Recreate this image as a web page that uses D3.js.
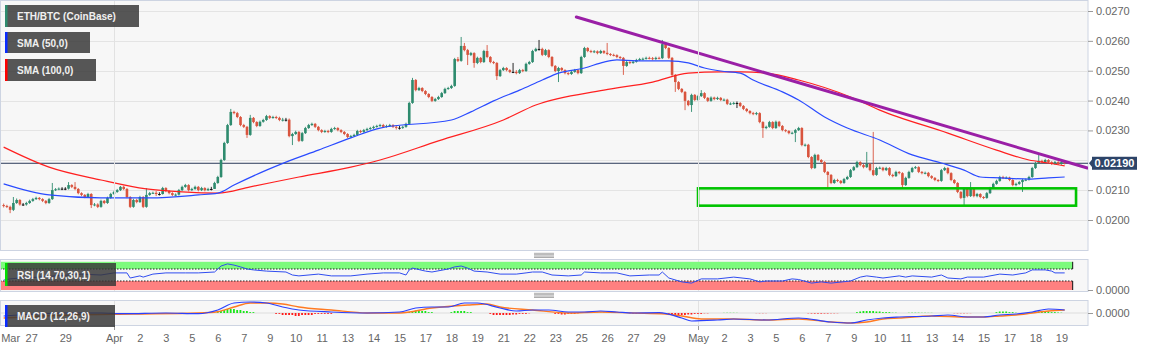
<!DOCTYPE html>
<html>
<head>
<script src="https://d3js.org/d3.v7.min.js"></script>
<style>
  html, body { margin: 0; padding: 0; background: #fff; }
  svg { display: block; font-family: Arial, "Liberation Sans", Helvetica, sans-serif; }
  .axis text { font-size: 11px; fill: #666; }
  .axis line { stroke: #999; }
  .axis path { display: none; }
  .legend text { font-size: 10px; font-weight: bold; fill: #f0f0f0; }
</style>
</head>
<body>
<div id="chart"></div>
<script>
// ---- DATA (4h candles, prices x 100000) ----
const candleStart = "2020-03-26T08:00:00Z";
const candleHours = 4;
const firstOpen = 2050;

const closes = [
  2047,2044,2034,2057,2067,2052,2052,2057,2064,2070, 2074,2070,2064,2057,2070,2100,2103,2105,2105,2105,
  2117,2111,2104,2090,2084,2077,2087,2050,2052,2044, 2064,2057,2074,2087,2094,2100,2111,2104,2077,2044,
  2067,2060,2077,2044,2084,2090,2091,2087,2087,2107, 2097,2090,2084,2085,2100,2111,2117,2100,2104,2111,
  2100,2107,2100,2104,2104,2124,2144,2201,2258,2318, 2362,2358,2345,2318,2312,2285,2342,2328,2315,2329,
  2335,2348,2342,2345,2342,2335,2336,2336,2281,2288, 2295,2265,2291,2308,2318,2322,2312,2301,2295,2298,
  2295,2305,2308,2301,2295,2288,2278,2281,2285,2298, 2295,2301,2305,2308,2312,2315,2318,2312,2315,2318,
  2312,2309,2309,2312,2322,2392,2469,2435,2442,2432, 2422,2412,2399,2405,2412,2425,2439,2442,2449,2539,
  2533,2583,2569,2553,2559,2526,2543,2529,2566,2546, 2529,2526,2482,2502,2509,2502,2496,2496,2492,2502,
  2499,2523,2529,2566,2573,2573,2553,2569,2546,2516, 2499,2509,2502,2492,2489,2496,2502,2492,2546,2576,
  2566,2563,2565,2559,2566,2560,2556,2553,2552,2546, 2543,2516,2529,2526,2530,2536,2539,2540,2543,2542,
  2539,2543,2542,2589,2576,2543,2486,2462,2439,2429, 2399,2385,2419,2402,2415,2425,2409,2399,2410,2405,
  2409,2402,2403,2389,2390,2392,2392,2382,2372,2365, 2358,2355,2358,2328,2308,2312,2328,2308,2329,2315,
  2301,2298,2291,2292,2301,2308,2251,2252,2211,2174, 2218,2201,2194,2161,2151,2124,2134,2131,2124,2137,
  2144,2167,2177,2194,2184,2177,2188,2167,2151,2174, 2175,2167,2174,2151,2147,2161,2157,2117,2141,2161,
  2174,2177,2161,2157,2158,2147,2141,2134,2131,2167, 2174,2157,2134,2124,2094,2074,2104,2080,2104,2080,
  2087,2077,2074,2090,2107,2121,2131,2144,2141,2142, 2134,2117,2121,2127,2134,2135,2144,2174,2191,2198,
  2194,2201,2194,2188,2194,2188,2194,2190
];
const highs = [
  2055,2051,2048,2077,2072,2070,2057,2061,2068,2074, 2078,2077,2073,2067,2074,2124,2107,2109,2110,2110,
  2127,2120,2127,2107,2093,2087,2091,2090,2057,2056, 2068,2067,2078,2091,2098,2104,2114,2115,2107,2080,
  2071,2071,2081,2080,2107,2094,2095,2097,2093,2111, 2110,2100,2093,2089,2104,2115,2121,2120,2108,2115,
  2114,2111,2110,2108,2111,2128,2148,2205,2262,2322, 2372,2366,2362,2348,2322,2315,2352,2345,2331,2333,
  2339,2352,2351,2349,2349,2346,2342,2342,2340,2292, 2299,2298,2295,2312,2322,2326,2325,2315,2304,2302,
  2302,2309,2312,2311,2304,2298,2291,2285,2289,2302, 2302,2305,2309,2312,2316,2319,2322,2322,2319,2322,
  2321,2318,2315,2316,2326,2396,2476,2472,2446,2445, 2435,2425,2415,2409,2416,2429,2443,2446,2453,2543,
  2546,2613,2593,2573,2563,2562,2547,2546,2570,2586, 2549,2533,2529,2506,2513,2512,2505,2526,2502,2506,
  2506,2527,2533,2570,2577,2603,2577,2573,2572,2549, 2519,2513,2512,2505,2495,2500,2506,2505,2550,2580,
  2579,2570,2569,2568,2570,2569,2593,2559,2557,2555, 2549,2546,2533,2532,2534,2540,2543,2544,2547,2547,
  2546,2547,2547,2603,2593,2579,2546,2489,2465,2442, 2432,2402,2423,2422,2419,2435,2428,2412,2414,2413,
  2413,2412,2407,2406,2394,2396,2397,2395,2385,2375, 2368,2362,2362,2361,2331,2316,2332,2331,2333,2332,
  2318,2304,2301,2296,2305,2312,2311,2256,2255,2214, 2222,2221,2204,2197,2164,2154,2138,2138,2134,2141,
  2148,2171,2181,2198,2197,2188,2228,2191,2295,2178, 2179,2178,2178,2177,2155,2165,2164,2160,2145,2165,
  2178,2181,2180,2164,2162,2161,2150,2144,2137,2171, 2178,2177,2160,2137,2127,2097,2108,2107,2127,2107,
  2091,2090,2080,2094,2111,2125,2135,2148,2148,2146, 2145,2137,2125,2131,2138,2139,2148,2178,2195,2224,
  2202,2205,2204,2197,2198,2197,2198,2197
];
const lows = [
  2042,2040,2023,2030,2054,2048,2047,2048,2054,2061, 2067,2066,2060,2053,2054,2067,2097,2100,2100,2100,
  2102,2107,2100,2086,2080,2073,2074,2040,2046,2040, 2041,2053,2054,2071,2084,2091,2097,2100,2073,2040,
  2041,2056,2057,2040,2041,2081,2087,2080,2082,2085, 2093,2086,2080,2080,2082,2097,2108,2096,2097,2101,
  2096,2097,2096,2097,2099,2104,2121,2141,2198,2255, 2315,2354,2341,2314,2308,2275,2282,2324,2311,2312,
  2326,2332,2338,2339,2338,2331,2330,2330,2277,2251, 2285,2261,2262,2288,2305,2315,2308,2297,2291,2292,
  2291,2292,2302,2297,2291,2284,2274,2275,2278,2282, 2291,2292,2298,2302,2305,2309,2312,2308,2309,2312,
  2308,2303,2303,2305,2309,2319,2389,2431,2432,2428, 2418,2408,2395,2396,2402,2409,2422,2436,2439,2446,
  2529,2530,2565,2519,2549,2510,2522,2525,2526,2542, 2525,2522,2469,2479,2499,2498,2492,2492,2488,2489,
  2495,2496,2520,2526,2563,2567,2549,2550,2542,2512, 2495,2462,2498,2488,2485,2486,2493,2488,2489,2543,
  2562,2559,2559,2555,2556,2556,2552,2549,2548,2542, 2539,2486,2513,2522,2523,2527,2533,2535,2537,2538,
  2535,2536,2538,2539,2572,2539,2482,2429,2435,2425, 2368,2381,2362,2398,2399,2412,2405,2395,2396,2401,
  2402,2398,2398,2385,2385,2386,2375,2378,2368,2361, 2354,2351,2351,2324,2275,2304,2309,2304,2305,2311,
  2297,2294,2287,2287,2261,2298,2247,2246,2207,2170, 2171,2197,2190,2157,2107,2120,2121,2127,2120,2121,
  2134,2141,2164,2174,2180,2173,2174,2163,2147,2148, 2170,2163,2164,2147,2143,2144,2153,2107,2114,2138,
  2158,2171,2157,2153,2153,2143,2137,2130,2127,2128, 2164,2153,2130,2120,2090,2070,2050,2076,2077,2076,
  2076,2073,2070,2071,2087,2104,2118,2128,2137,2137, 2130,2113,2113,2118,2094,2130,2132,2141,2171,2188,
  2190,2191,2190,2184,2185,2184,2185,2186
];

// moving averages, read at candle indexes (prices x 100000)
const sma50Idx = [0,14,30,45,60,66,71,81,87,97,107,116,138,144,151,159,166,171,179,185,189,195,205,211,216,221,227,231,240,245,253,260,270,280,289,296,301,307,316,322,327];
const sma50Val = [2121,2084,2074,2074,2084,2090,2117,2167,2194,2234,2275,2308,2335,2362,2399,2435,2469,2492,2509,2529,2536,2533,2533,2526,2509,2499,2492,2469,2429,2402,2345,2308,2268,2218,2191,2167,2144,2141,2137,2141,2144];
const sma100Idx = [0,14,30,44,55,66,76,91,107,116,134,154,164,185,200,211,221,227,235,245,261,270,291,306,316,322,327];
const sma100Val = [2244,2177,2134,2104,2094,2090,2111,2144,2177,2201,2265,2335,2385,2435,2462,2492,2496,2496,2492,2469,2412,2368,2291,2234,2201,2191,2181];

// drawn objects
const trendTimes = ["2020-04-24T18:00:00Z", "2020-05-21T00:00:00Z"];
const trendPrices = [0.02680, 0.02174];
const boxTimes = ["2020-05-01T00:00:00Z", "2020-05-20T10:00:00Z"];
const boxPrices = [0.02106, 0.02048];
const lastPrice = 0.02190;

// RSI (14)
const rsiIdx = [0,2,5,11,20,24,30,34,38,39,42,43,46,50,56,60,65,67,69,71,73,75,77,81,87,89,91,97,101,107,112,117,122,124,125,126,130,132,137,139,141,143,145,149,153,158,161,163,166,169,174,178,179,184,189,193,199,202,203,205,209,212,215,220,225,230,233,235,240,243,245,249,252,255,261,264,266,269,271,276,278,280,286,289,291,295,297,302,307,311,315,317,321,323,324,327];
const rsiVal = [33,37,40,43,50,53,50,57,57,40,47,43,53,57,57,57,60,80,87,83,77,70,67,63,60,50,47,53,47,47,53,57,57,50,67,73,63,60,70,77,80,73,63,60,53,53,57,60,60,50,47,50,60,57,57,47,50,50,60,40,27,23,37,37,43,37,27,30,30,37,35,23,27,23,30,43,47,43,40,47,43,47,43,50,40,37,43,43,53,50,57,67,67,63,57,57];

// MACD (12,26,9), values x 0.0001
const macdIdx = [0,20,30,37,50,60,66,71,76,81,86,91,101,112,122,127,132,137,142,146,153,158,163,168,174,179,184,189,194,202,209,212,220,225,235,245,255,261,266,271,276,286,291,297,302,307,312,317,322,327];
const macdVal = [-3,0,0,-0.7,0,-0.7,3,10,11,10,6,3,1,0,1,5,6,6,10,10,5,2,3,3,1,1,2,1,0,0.3,-5,-8,-7,-6,-7,-5,-9,-10,-7,-5,-4,-3,-2,-4,-4,-2,-1,1,4,3];
const signalIdx = [0,20,40,60,66,71,76,81,86,91,101,112,122,132,143,149,153,163,174,184,194,204,209,215,225,235,245,255,261,266,271,276,286,297,302,307,312,317,322,327];
const signalVal = [-5,-2,-1,0,1.3,6,10,10,9,6,3,0,0,5,8,9,6,3,0,1,0,-1,-3,-6,-6,-7,-6,-9,-10,-9,-6,-5,-3,-4,-4,-3,-2,0,2,3];
const histStart = [66,84,125,138,150,170,181,193,204,222,232,248,263,279,293,306,316];
const histVals = [
  [1,2,3,4,4,4,3,3,2,2,1,1],
  [-1,-1,-2,-2,-2,-2,-3,-3,-2,-2,-2,-2,-1,-1,-1,-1,-1,-1],
  [1,2,2.5,2.5,2,2,1,1],
  [1,2,2,2,2,1,1],
  [-1,-2,-2,-2,-2,-2,-2,-1.5,-1.5,-1,-1,-1,-0.5],
  [-1,-1,-1.5,-1.5,-1,-1,-1,-0.5],
  [0.4,0.5,0.5,0.5,0.4,0.4,0.3],
  [-0.5,-0.7,-0.7,-0.7,-0.5,-0.5,-0.4],
  [-1,-1.5,-2,-2,-2,-2,-2,-1.5,-1.5,-1,-1,-1,-0.5,-0.5],
  [0.3,0.4,0.4,0.4,0.3],
  [-0.3,-0.4,-0.4,-0.3],
  [-0.5,-0.7,-0.8,-0.8,-0.8,-0.7,-0.7,-0.5,-0.5,-0.4],
  [1,1.5,2,2,2,2,1.5,1.5,1,1,1,0.5,0.5],
  [0.4,0.5,0.5,0.5,0.4,0.4,0.3,0.3],
  [-0.4,-0.5,-0.5,-0.5,-0.4,-0.3],
  [1,1.5,1.5,1.5,1,1,0.5],
  [0.7,1,1.5,1.5,1.5,1.5,1.5,1,1,0.7,0.5]
];

// x axis labels
const tickTimes = ["2020-03-26T16:00","2020-03-27T18:00","2020-03-29T12:00","2020-04-01T00:00","2020-04-02T08:00","2020-04-03T16:00",
  "2020-04-05T00:00","2020-04-06T08:00","2020-04-07T16:00","2020-04-09T00:00","2020-04-10T08:00","2020-04-11T16:00","2020-04-13T00:00",
  "2020-04-14T08:00","2020-04-15T16:00","2020-04-17T00:00","2020-04-18T08:00","2020-04-19T16:00","2020-04-21T00:00","2020-04-22T08:00",
  "2020-04-23T16:00","2020-04-25T00:00","2020-04-26T08:00","2020-04-27T16:00","2020-04-29T00:00","2020-05-01T00:00","2020-05-02T08:00",
  "2020-05-03T16:00","2020-05-05T00:00","2020-05-06T08:00","2020-05-07T16:00","2020-05-09T00:00","2020-05-10T08:00","2020-05-11T16:00",
  "2020-05-13T00:00","2020-05-14T08:00","2020-05-15T16:00","2020-05-17T00:00","2020-05-18T08:00","2020-05-19T16:00"];
const tickTexts = ["Mar","27","29","Apr","2","3","5","6","7","9","10","11","13","14","15","17","18","19","21","22","23","25","26","27","29",
  "May","2","3","5","6","7","9","10","11","13","14","15","17","18","19"];
const monthLines = ["2020-04-01T00:00", "2020-05-01T00:00"];
const priceTicks = [0.0200, 0.0210, 0.0230, 0.0240, 0.0250, 0.0260, 0.0270];

// ---- SETUP ----
const width = 1153, height = 351;
const plotRight = 1088;
const main = {top: 0, bottom: 250};
const rsiPanel = {top: 259, bottom: 291};
const macdPanel = {top: 300, bottom: 325};

const utc = s => new Date(s.endsWith("Z") ? s : s + "Z");
const t0 = utc(candleStart).getTime();
const idxTime = i => new Date(t0 + i * candleHours * 3600e3);

const svg = d3.select("#chart").append("svg")
  .attr("width", width).attr("height", height);

const x = d3.scaleUtc()
  .domain([utc("2020-03-26T03:30"), utc("2020-05-21T00:45")])
  .range([0, plotRight]);
const y = d3.scaleLinear().domain([0.0200, 0.0270]).range([220, 11]);
const yRsi = d3.scaleLinear().domain([0, 100]).range([290, 260]);
const yMacd = d3.scaleLinear().domain([-12, 13]).range([325, 300]);

const candles = closes.map((c, i) => ({
  t: idxTime(i),
  o: (i === 0 ? firstOpen : closes[i - 1]) / 1e5,
  h: highs[i] / 1e5, l: lows[i] / 1e5, c: c / 1e5
}));

// panel backgrounds
[main, rsiPanel, macdPanel].forEach(p => {
  svg.append("rect")
    .attr("x", 0.5).attr("y", p.top + 0.5)
    .attr("width", plotRight - 0.5).attr("height", p.bottom - p.top)
    .attr("fill", "#f7f7f7").attr("stroke", "#cdd4e2");
});

const defs = svg.append("defs");
[["clipMain", main], ["clipRsi", rsiPanel], ["clipMacd", macdPanel]].forEach(([id, p]) => {
  defs.append("clipPath").attr("id", id).append("rect")
    .attr("x", 1).attr("y", p.top + 1).attr("width", plotRight - 1).attr("height", p.bottom - p.top - 1);
});

// grid
const gMain = svg.append("g").attr("clip-path", "url(#clipMain)");
gMain.selectAll(".hgrid").data(d3.range(0.0200, 0.02705, 0.001)).enter().append("line")
  .attr("x1", 0).attr("x2", plotRight)
  .attr("y1", d => Math.round(y(d)) + 0.5).attr("y2", d => Math.round(y(d)) + 0.5)
  .attr("stroke", "#e4e4e4");
monthLines.forEach(m => {
  const mx = Math.round(x(utc(m))) + 0.5;
  [main, rsiPanel, macdPanel].forEach(p => {
    svg.append("line").attr("x1", mx).attr("x2", mx).attr("y1", p.top + 1).attr("y2", p.bottom)
      .attr("stroke", "#e2e2e2");
  });
  svg.append("line").attr("x1", mx).attr("x2", mx).attr("y1", macdPanel.bottom + 1).attr("y2", macdPanel.bottom + 5)
    .attr("stroke", "#999");
});

// last price line
gMain.append("line")
  .attr("x1", 0).attr("x2", plotRight)
  .attr("y1", y(lastPrice)).attr("y2", y(lastPrice))
  .attr("stroke", "#2b3b5a").attr("stroke-width", 1);

// candles
const upCol = "#2e8b6e", downCol = "#d9543e";
const colorOf = d => d.c > d.o ? upCol : (d.c < d.o ? downCol : "#111");
const cg = gMain.selectAll(".candle").data(candles).enter().append("g");
cg.append("line")
  .attr("x1", d => x(d.t)).attr("x2", d => x(d.t))
  .attr("y1", d => y(d.h)).attr("y2", d => y(d.l))
  .attr("stroke", colorOf).attr("stroke-width", 0.9);
cg.append("rect")
  .attr("x", d => x(d.t) - 1.3)
  .attr("width", 2.6)
  .attr("y", d => y(Math.max(d.o, d.c)))
  .attr("height", d => Math.max(1, Math.abs(y(d.o) - y(d.c))))
  .attr("fill", colorOf);

// moving averages
const maLine = d3.line().x(d => x(d.t)).y(d => y(d.v)).curve(d3.curveMonotoneX);
const series = (idx, vals, k) => idx.map((i, j) => ({t: idxTime(i), v: vals[j] / k}));
gMain.append("path").datum(series(sma100Idx, sma100Val, 1e5))
  .attr("d", maLine).attr("fill", "none").attr("stroke", "#ff2020").attr("stroke-width", 1.2);
gMain.append("path").datum(series(sma50Idx, sma50Val, 1e5))
  .attr("d", maLine).attr("fill", "none").attr("stroke", "#2a4bff").attr("stroke-width", 1.2);

// trend line
gMain.append("line")
  .attr("x1", x(utc(trendTimes[0]))).attr("y1", y(trendPrices[0]))
  .attr("x2", x(utc(trendTimes[1]))).attr("y2", y(trendPrices[1]))
  .attr("stroke", "#9a1fa6").attr("stroke-width", 3).attr("stroke-linecap", "round");

// support box
gMain.append("rect")
  .attr("x", x(utc(boxTimes[0]))).attr("y", y(boxPrices[0]))
  .attr("width", x(utc(boxTimes[1])) - x(utc(boxTimes[0])))
  .attr("height", y(boxPrices[1]) - y(boxPrices[0]))
  .attr("fill", "none").attr("stroke", "#00c400").attr("stroke-width", 2.6);

// ---- RSI ----
const gRsi = svg.append("g").attr("clip-path", "url(#clipRsi)");
const bandEnd = x(idxTime(closes.length - 1)) + 8;
gRsi.append("rect").attr("x", 0).attr("width", bandEnd)
  .attr("y", yRsi(94)).attr("height", yRsi(70) - yRsi(94)).attr("fill", "#7dfb7d");
gRsi.append("rect").attr("x", 0).attr("width", bandEnd)
  .attr("y", yRsi(30)).attr("height", yRsi(0) - yRsi(30)).attr("fill", "#ff8080");
[70, 30].forEach(v => gRsi.append("line").attr("x1", 0).attr("x2", bandEnd)
  .attr("y1", yRsi(v)).attr("y2", yRsi(v)).attr("stroke", "#222").attr("stroke-dasharray", "1.5,1.5"));
[[94, 70], [30, 0]].forEach(([a, b]) => {
  [0.5, bandEnd].forEach(bx => gRsi.append("line").attr("x1", bx).attr("x2", bx)
    .attr("y1", yRsi(a)).attr("y2", yRsi(b)).attr("stroke", "#111"));
});
gRsi.append("path").datum(series(rsiIdx, rsiVal, 1))
  .attr("d", d3.line().x(d => x(d.t)).y(d => yRsi(d.v)))
  .attr("fill", "none").attr("stroke", "#2f4cf0").attr("stroke-width", 1);

// ---- MACD ----
const gMacd = svg.append("g").attr("clip-path", "url(#clipMacd)");
gMacd.append("line").attr("x1", 0).attr("x2", plotRight)
  .attr("y1", yMacd(0)).attr("y2", yMacd(0)).attr("stroke", "#ddd");
const hist = [];
histStart.forEach((s, k) => histVals[k].forEach((v, j) => hist.push({t: idxTime(s + j), v})));
gMacd.selectAll(".hbar").data(hist).enter().append("rect")
  .attr("x", d => x(d.t) - 1)
  .attr("width", 1.8)
  .attr("y", d => yMacd(Math.max(0, d.v)))
  .attr("height", d => Math.abs(yMacd(d.v) - yMacd(0)))
  .attr("fill", d => d.v > 0 ? "#19e619" : "#ff1a1a")
  .attr("opacity", d => Math.min(1, 0.35 + Math.abs(d.v) / 2));
const macdLine = d3.line().x(d => x(d.t)).y(d => yMacd(d.v)).curve(d3.curveMonotoneX);
gMacd.append("path").datum(series(signalIdx, signalVal, 1))
  .attr("d", macdLine).attr("fill", "none").attr("stroke", "#ff7a22").attr("stroke-width", 1.4);
gMacd.append("path").datum(series(macdIdx, macdVal, 1))
  .attr("d", macdLine).attr("fill", "none").attr("stroke", "#2a40ff").attr("stroke-width", 1.2);

// ---- AXES ----
svg.append("g").attr("class", "axis")
  .attr("transform", `translate(${plotRight},0)`)
  .call(d3.axisRight(y).tickValues(priceTicks).tickFormat(d3.format(".4f")).tickSize(5).tickPadding(3));
svg.append("g").attr("class", "axis")
  .attr("transform", `translate(${plotRight},0)`)
  .call(d3.axisRight(yRsi).tickValues([0]).tickFormat(d3.format(".4f")).tickSize(5).tickPadding(3));
svg.append("g").attr("class", "axis")
  .attr("transform", `translate(${plotRight},0)`)
  .call(d3.axisRight(yMacd).tickValues([0]).tickFormat(d3.format(".4f")).tickSize(5).tickPadding(3));

svg.append("g").attr("class", "axis")
  .attr("transform", `translate(0,${macdPanel.bottom})`)
  .call(d3.axisBottom(x).tickValues(tickTimes.map(utc))
    .tickFormat((d, i) => tickTexts[i]).tickSize(0).tickPadding(9));

// last price label
const ly = y(lastPrice);
svg.append("path")
  .attr("d", `M${plotRight + 1},${ly} L${plotRight + 5},${ly - 5} L${plotRight + 5},${ly + 5} Z`)
  .attr("fill", "#2d4468");
svg.append("rect").attr("x", plotRight + 4).attr("y", ly - 6.5)
  .attr("width", 45).attr("height", 13).attr("fill", "#2d4468");
svg.append("text").attr("x", plotRight + 26.5).attr("y", ly + 4)
  .attr("text-anchor", "middle").attr("fill", "#fff")
  .style("font-size", "11px").style("font-weight", "bold")
  .text(d3.format(".5f")(lastPrice));

// ---- LEGENDS ----
const legends = [
  {text: "ETH/BTC (CoinBase)", color: "#2e8b6e", y: 5, w: 134, h: 22},
  {text: "SMA (50,0)", color: "#0a2cff", y: 32, w: 85, h: 21},
  {text: "SMA (100,0)", color: "#ff0000", y: 59, w: 91, h: 22},
  {text: "RSI (14,70,30,1)", color: "#00dd00", y: 263, w: 111, h: 23},
  {text: "MACD (12,26,9)", color: "#0a2cff", y: 305, w: 110, h: 22}
];
const lg = svg.append("g").attr("class", "legend");
legends.forEach(l => {
  lg.append("rect").attr("x", 5).attr("y", l.y).attr("width", l.w).attr("height", l.h)
    .attr("fill", "rgba(55,55,55,0.84)");
  lg.append("rect").attr("x", 5).attr("y", l.y).attr("width", 2.5).attr("height", l.h)
    .attr("fill", l.color);
  lg.append("text").attr("x", 17).attr("y", l.y + l.h / 2 + 4).text(l.text);
});

// panel resize handles
[255.5, 295.5].forEach(hy => {
  [-2.2, -0.8, 0.6, 2].forEach(o => svg.append("line")
    .attr("x1", 534).attr("x2", 554).attr("y1", hy + o).attr("y2", hy + o)
    .attr("stroke", "#888").attr("stroke-width", 0.7));
});
</script>
</body>
</html>
